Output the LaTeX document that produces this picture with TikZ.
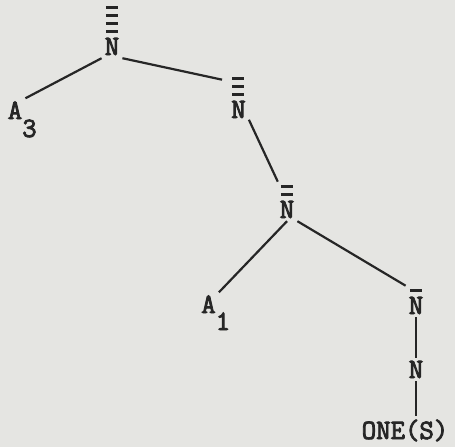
\documentclass[tikz,border=0pt]{standalone}
\usepackage{fontspec}
\setmonofont[FakeBold=3]{Latin Modern Mono}
\definecolor{paper}{RGB}{229,229,226}
\definecolor{ink}{RGB}{38,38,38}

\newcommand\barstack[1]{\ifnum#1>0 \hbox to 14pt{\hss\rule{12pt}{3pt}\hss}\kern5pt
  \expandafter\barstack\expandafter{\number\numexpr#1-1\relax}\fi}
\newcommand\barN[1]{\vbox{\offinterlineskip\barstack{#1}\hbox{N}}}

\begin{document}
\begin{tikzpicture}[x=1pt, y=-1pt,
  tw/.style={font=\ttfamily\fontsize{28}{32}\selectfont, text=ink, inner sep=3pt, anchor=base},
  edge/.style={draw=ink, line width=2.2pt}]
	\fill [paper] (0,0) rectangle (455,447);
	\node [tw] (nN4) at (112,55) {\barN{4}};
	\node [tw] (nA3) at (15,119) {A\rlap{\smash{\raisebox{-18pt}{3}}}};
	\node [tw] (nN3) at (238.5,118) {\barN{3}};
	\node [tw] (nN2) at (287,218) {\barN{2}};
	\node [tw] (nA1) at (208.5,313) {A\rlap{\smash{\raisebox{-17pt}{1}}}};
	\node [tw] (nN1) at (416,314) {\barN{1}};
	\node [tw] (nN0) at (416,378) {\barN{0}};
	\node [tw] (nOne) at (405,439) {ONE(S)};
	\draw [edge] (nN4.south west) -- (nA3.north east);
	\draw [edge] (nN4.south east) -- ([xshift=-6pt, yshift=-6pt]nN3.north west);
	\draw [edge] (nN3) -- (nN2);
	\draw [edge] (nN2.south) -- (nA1.north east);
	\draw [edge] (nN2.south east) -- (nN1.north west);
	\draw [edge] (nN1) -- (nN0);
	\draw [edge] (nN0) -- (nN0 |- nOne.north);
\end{tikzpicture}
\end{document}
